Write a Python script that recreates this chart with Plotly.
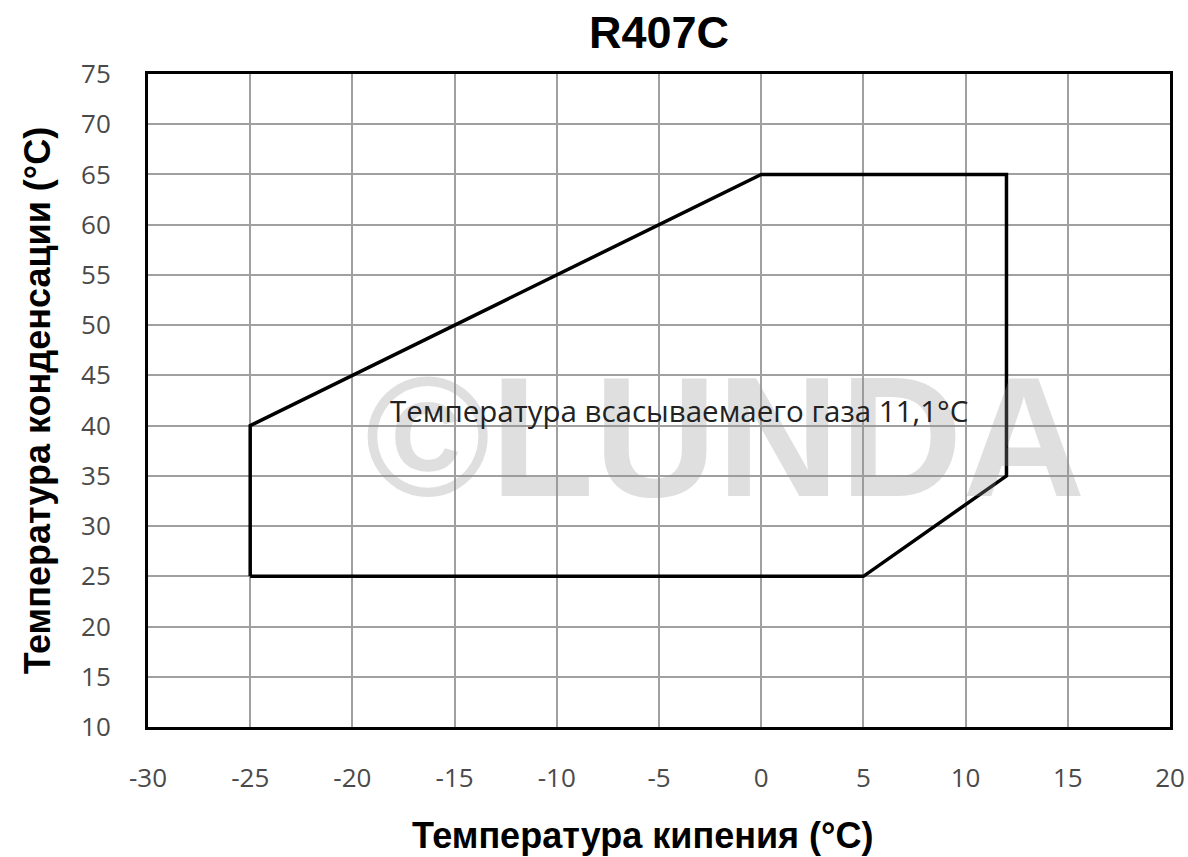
import plotly.graph_objects as go

title = "R407C"
x_title = "Температура кипения (°C)"
y_title = "Температура конденсации (°C)"
x_ticks = [-30, -25, -20, -15, -10, -5, 0, 5, 10, 15, 20]
x_tick_labels = ["-30", "-25", "-20", "-15", "-10", "-5", "0", "5", "10", "15", "20"]
y_ticks = [10, 15, 20, 25, 30, 35, 40, 45, 50, 55, 60, 65, 70, 75]
envelope_x = [-25, -25, 0, 12, 12, 5, -25]
envelope_y = [25, 40, 65, 65, 35, 25, 25]
note_text = "Температура всасываемаего газа 11,1°C"
note_pos = (-4.0, 41.5)
watermark = "©LUNDA"
watermark_pos = (-1.75, 38.9)

L, R, T, B = 148, 1170, 74, 727

fig = go.Figure()
fig.add_trace(go.Scatter(x=envelope_x, y=envelope_y, mode="lines",
                         line=dict(color="black", width=3.5), hoverinfo="skip",
                         showlegend=False))

fig.add_annotation(x=watermark_pos[0], y=watermark_pos[1], text="<b>" + watermark + "</b>",
                   showarrow=False,
                   font=dict(family="Liberation Sans", size=170, color="rgba(150,150,150,0.30)"))
fig.add_annotation(x=note_pos[0], y=note_pos[1], text=note_text, showarrow=False,
                   font=dict(family="Open Sans", size=29.5, color="#222"))
fig.add_annotation(x=(642 - L) / (R - L), y=(B - 835) / (B - T), xref="paper", yref="paper",
                   text="<b>" + x_title + "</b>",
                   showarrow=False, xanchor="center", yanchor="middle",
                   font=dict(family="Liberation Sans", size=36, color="black"))

fig.update_layout(
    width=1188, height=857,
    margin=dict(l=L, r=1188 - R, t=T, b=857 - B, autoexpand=False),
    paper_bgcolor="white", plot_bgcolor="white",
    title=dict(text="<b>" + title + "</b>", x=659 / 1188, xanchor="center",
               y=1 - 32 / 857, yanchor="middle",
               font=dict(family="Liberation Sans", size=45, color="black")),
    xaxis=dict(range=[-30, 20], tickvals=x_ticks, ticktext=x_tick_labels, showgrid=True,
               gridcolor="#a0a0a0", automargin=False,
               gridwidth=1.5, zeroline=False, showline=True, linecolor="black", linewidth=3,
               mirror=True, ticks="", ticklabelstandoff=26,
               tickfont=dict(family="Open Sans", size=26, color="#4a4a4a")),
    yaxis=dict(range=[10, 75], tickvals=y_ticks, showgrid=True, gridcolor="#a0a0a0",
               gridwidth=1.5, zeroline=False, showline=True, linecolor="black", linewidth=3,
               mirror=True, ticks="", ticklabelstandoff=29, automargin=False,
               tickfont=dict(family="Open Sans", size=26, color="#4a4a4a"),
               title=dict(text="<b>" + y_title + "</b>", standoff=20,
                          font=dict(family="Liberation Sans", size=36, color="black"))),
)

fig.write_html("out.html", config={"displayModeBar": False},
               post_script="document.body.style.margin='0px';document.body.style.overflow='hidden';")
